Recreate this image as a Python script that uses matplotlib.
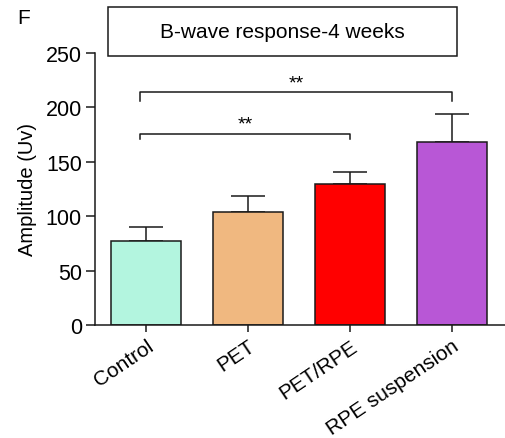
import matplotlib
matplotlib.use("Agg")
import matplotlib.pyplot as plt
from matplotlib.patches import Rectangle

categories = ["Control", "PET", "PET/RPE", "RPE suspension"]
means = [77, 103.5, 130, 168.5]
errors = [13, 15, 10.5, 25]
colors = ["#b3f5df", "#f0b880", "#ff0000", "#b857d6"]
yticks = [0, 50, 100, 150, 200, 250]
# significance brackets: (i, j, y_top, y_drop, label)
brackets = [(0, 2, 176, 171, "**"), (0, 3, 214, 206, "**")]

plt.rcParams['font.family'] = ['Liberation Sans', 'DejaVu Sans']
W, H = 505, 439
fig = plt.figure(figsize=(W / 100, H / 100), dpi=100)
ax = fig.add_axes([95 / W, (H - 326) / H, 410 / W, (326 - 54) / H])

x = list(range(len(categories)))
ax.bar(x, means, width=0.69, color=colors, edgecolor="#1a1a1a", linewidth=1.1, zorder=2)
ax.errorbar(x, means, yerr=[[0] * len(errors), errors], fmt="none", ecolor="#1a1a1a",
            elinewidth=1.1, capsize=12.5, capthick=1.1, zorder=1)

ax.set_xlim(-0.5, 3.52)
ax.set_ylim(0, 250)
ax.set_yticks(yticks)
ax.set_xticks(x)
ax.set_xticklabels(categories, rotation=34, ha="right", va="top", rotation_mode="anchor", fontsize=15)
ax.tick_params(axis="y", labelsize=15.5, length=6.5, width=1.1, color="#1a1a1a", pad=3)
ax.tick_params(axis="x", length=5, width=1.1, color="#1a1a1a", pad=3)
for s in ["top", "right"]:
    ax.spines[s].set_visible(False)
for s in ["left", "bottom"]:
    ax.spines[s].set_linewidth(1.1)
    ax.spines[s].set_color("#1a1a1a")
ax.set_ylabel("Amplitude (Uv)", fontsize=14.5, labelpad=6)

for i, j, ytop, ydrop, lab in brackets:
    ax.plot([i - 0.06, i - 0.06, j, j], [ydrop, ytop, ytop, ydrop], color="#1a1a1a", lw=1.1, clip_on=False)
    ax.text((i - 0.06 + j) / 2, ytop + 1, lab, ha="center", va="bottom", fontsize=14)

# title box
fig.patches.append(Rectangle((108 / W, (H - 57) / H), (457 - 108) / W, 49 / H,
                             transform=fig.transFigure, fill=False, edgecolor="#1a1a1a", lw=1.1))
fig.text((108 + 457) / 2 / W, (H - 32) / H, "B-wave response-4 weeks", ha="center", va="center", fontsize=15)
fig.text(17 / W, (H - 18) / H, "F", ha="left", va="center", fontsize=15)

fig.savefig("out.png", dpi=100)
